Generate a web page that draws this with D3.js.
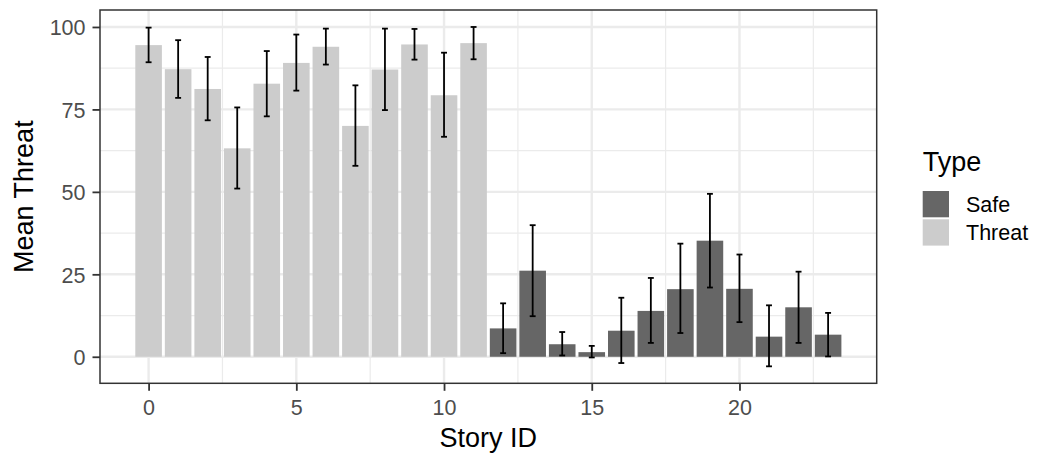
<!DOCTYPE html>
<html>
<head>
<meta charset="utf-8">
<script src="https://cdn.jsdelivr.net/npm/d3@7"></script>
<style>
  html, body { margin: 0; padding: 0; background: #fff; }
  svg { display: block; font-family: "Liberation Sans", Arial, sans-serif; }
</style>
</head>
<body>
<svg id="chart" width="1038" height="458"></svg>
<script>
// Mean threat rating per story, with error bar bounds
const storyIds = [0, 1, 2, 3, 4, 5, 6, 7, 8, 9, 10, 11, 12, 13, 14, 15, 16, 17, 18, 19, 20, 21, 22, 23];
const storyTypes = ["Threat", "Threat", "Threat", "Threat", "Threat", "Threat", "Threat", "Threat", "Threat", "Threat", "Threat", "Threat",
                    "Safe", "Safe", "Safe", "Safe", "Safe", "Safe", "Safe", "Safe", "Safe", "Safe", "Safe", "Safe"];
const meanThreat = [94.5, 87.2, 81.2, 63.2, 82.8, 89.1, 94.0, 70.0, 87.1, 94.7, 79.3, 95.1,
                    8.6, 26.1, 3.8, 1.4, 7.9, 13.9, 20.5, 35.2, 20.6, 6.1, 15.0, 6.7];
const lowerBound = [89.3, 78.5, 71.7, 51.0, 72.9, 80.7, 88.6, 57.9, 74.8, 90.1, 66.7, 90.2,
                    1.1, 12.3, 0.4, -0.2, -1.9, 4.2, 7.2, 21.0, 10.5, -2.9, 4.2, 0.1];
const upperBound = [99.8, 96.0, 90.9, 75.6, 92.7, 97.7, 99.5, 82.3, 99.5, 99.4, 92.2, 100.0,
                    16.2, 39.9, 7.5, 3.3, 17.9, 23.9, 34.3, 49.4, 31.0, 15.6, 25.8, 13.3];

const xTicks = [0, 5, 10, 15, 20];
const yTicks = [0, 25, 50, 75, 100];
const typeLevels = ["Safe", "Threat"];
const typeColors = ["#666666", "#cccccc"];

const rows = storyIds.map((id, i) => ({
  id, type: storyTypes[i], mean: meanThreat[i], lo: lowerBound[i], hi: upperBound[i]
}));

const svg = d3.select("#chart");
const panel = { left: 100, right: 876.7, top: 10, bottom: 383.3 };
const barWidth = 0.9, capWidth = 0.2;

// Continuous scales padded by 5% of the data range on each side
const xMin = d3.min(storyIds) - barWidth / 2, xMax = d3.max(storyIds) + barWidth / 2;
const xPad = (xMax - xMin) * 0.05;
const x = d3.scaleLinear().domain([xMin - xPad, xMax + xPad]).range([panel.left, panel.right]);

const yMin = Math.min(0, d3.min(lowerBound)), yMax = Math.max(d3.max(upperBound), d3.max(meanThreat));
const yPad = (yMax - yMin) * 0.05;
const y = d3.scaleLinear().domain([yMin - yPad, yMax + yPad]).range([panel.bottom, panel.top]);

const color = d3.scaleOrdinal().domain(typeLevels).range(typeColors);

const W = panel.right - panel.left, H = panel.bottom - panel.top;

// Grid lines
const grid = svg.append("g");
const xMinor = d3.range(-2.5, 25, 5).filter(v => v > x.domain()[0] && v < x.domain()[1]);
const yMinor = d3.range(-12.5, 110, 25).filter(v => v > y.domain()[0] && v < y.domain()[1]);
grid.selectAll(".xminor").data(xMinor).join("line")
  .attr("x1", d => x(d)).attr("x2", d => x(d)).attr("y1", panel.top).attr("y2", panel.bottom)
  .attr("stroke", "#ebebeb").attr("stroke-width", 1.2);
grid.selectAll(".yminor").data(yMinor).join("line")
  .attr("y1", d => y(d)).attr("y2", d => y(d)).attr("x1", panel.left).attr("x2", panel.right)
  .attr("stroke", "#ebebeb").attr("stroke-width", 1.2);
grid.selectAll(".xmajor").data(xTicks).join("line")
  .attr("x1", d => x(d)).attr("x2", d => x(d)).attr("y1", panel.top).attr("y2", panel.bottom)
  .attr("stroke", "#ebebeb").attr("stroke-width", 2.4);
grid.selectAll(".ymajor").data(yTicks).join("line")
  .attr("y1", d => y(d)).attr("y2", d => y(d)).attr("x1", panel.left).attr("x2", panel.right)
  .attr("stroke", "#ebebeb").attr("stroke-width", 2.4);

// Bars
svg.append("g").selectAll("rect").data(rows).join("rect")
  .attr("x", d => x(d.id - barWidth / 2))
  .attr("width", d => x(d.id + barWidth / 2) - x(d.id - barWidth / 2))
  .attr("y", d => y(Math.max(0, d.mean)))
  .attr("height", d => Math.abs(y(d.mean) - y(0)))
  .attr("fill", d => color(d.type));

// Error bars
const eb = svg.append("g").attr("stroke", "#000").attr("stroke-width", 1.8).attr("fill", "none");
eb.selectAll(".stem").data(rows).join("line")
  .attr("x1", d => x(d.id)).attr("x2", d => x(d.id))
  .attr("y1", d => y(d.lo)).attr("y2", d => y(d.hi));
eb.selectAll(".top").data(rows).join("line")
  .attr("x1", d => x(d.id - capWidth / 2)).attr("x2", d => x(d.id + capWidth / 2))
  .attr("y1", d => y(d.hi)).attr("y2", d => y(d.hi));
eb.selectAll(".bot").data(rows).join("line")
  .attr("x1", d => x(d.id - capWidth / 2)).attr("x2", d => x(d.id + capWidth / 2))
  .attr("y1", d => y(d.lo)).attr("y2", d => y(d.lo));

// Panel border
svg.append("rect")
  .attr("x", panel.left).attr("y", panel.top).attr("width", W).attr("height", H)
  .attr("fill", "none").attr("stroke", "#333333").attr("stroke-width", 1.5);

// Axes
const xAxis = svg.append("g").attr("transform", `translate(0,${panel.bottom})`)
  .call(d3.axisBottom(x).tickValues(xTicks).tickSize(7.5).tickPadding(9).tickFormat(d3.format("d")));
const yAxis = svg.append("g").attr("transform", `translate(${panel.left},0)`)
  .call(d3.axisLeft(y).tickValues(yTicks).tickSize(7.5).tickPadding(7).tickFormat(d3.format("d")));
[xAxis, yAxis].forEach(a => {
  a.select(".domain").remove();
  a.selectAll(".tick line").attr("stroke", "#333333").attr("stroke-width", 1.8);
  a.selectAll(".tick text").attr("fill", "#4d4d4d").style("font-size", "21.5px")
    .style("font-family", "'Liberation Sans', Arial, sans-serif");
});
yAxis.selectAll(".tick text").attr("dy", "0.36em");

// Axis titles
svg.append("text")
  .attr("x", (panel.left + panel.right) / 2).attr("y", 446.5)
  .attr("text-anchor", "middle").attr("fill", "#000").style("font-size", "27px")
  .text("Story ID");
svg.append("text")
  .attr("transform", `translate(33,${(panel.top + panel.bottom) / 2}) rotate(-90)`)
  .attr("text-anchor", "middle").attr("fill", "#000").style("font-size", "27px")
  .text("Mean Threat");

// Legend
const legend = svg.append("g").attr("transform", "translate(922.7,0)");
legend.append("text").attr("x", 0).attr("y", 170.7).attr("fill", "#000")
  .style("font-size", "27px").text("Type");
const keys = legend.selectAll(".key").data(typeLevels).join("g")
  .attr("transform", (d, i) => `translate(0,${191 + i * 28.3})`);
keys.append("rect").attr("width", 26.3).attr("height", 26.3).attr("fill", d => color(d));
keys.append("text").attr("x", 43.3).attr("y", 13.2).attr("dy", "0.36em")
  .attr("fill", "#000").style("font-size", "21.5px").text(d => d);
</script>
</body>
</html>
